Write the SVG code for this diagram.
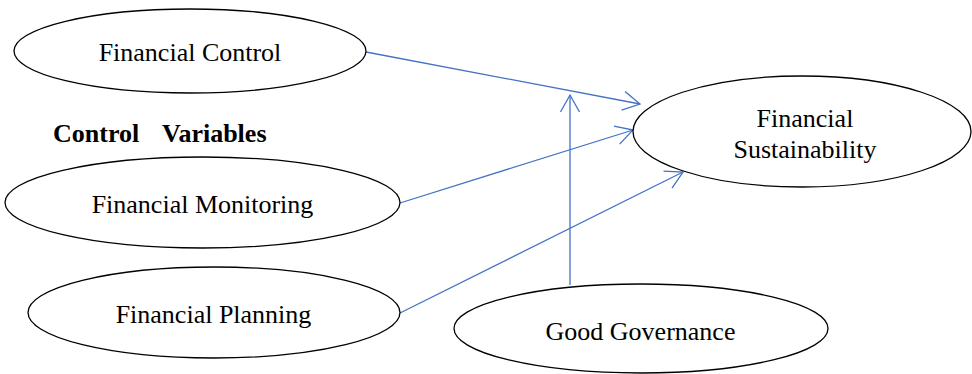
<svg xmlns="http://www.w3.org/2000/svg" width="972" height="374" viewBox="0 0 972 374">
  <style>
    .node ellipse { fill: #ffffff; stroke: #000000; stroke-width: 1.3; }
    .label { font-family: "Liberation Serif", "Times New Roman", serif; font-size: 26px; fill: #000000; text-anchor: middle; }
    .heading { font-family: "Liberation Serif", "Times New Roman", serif; font-size: 26px; font-weight: bold; fill: #000000; }
    .edge { fill: none; stroke: #4472C4; stroke-width: 1.3; marker-end: url(#open-arrow); }
  </style>
  <defs>
    <marker id="open-arrow" markerUnits="userSpaceOnUse" markerWidth="24" markerHeight="24" viewBox="-20 -12 22 24" refX="0" refY="0" orient="auto">
      <path d="M-17,-9.5 L0,0 L-17,9.5" fill="none" stroke="#4472C4" stroke-width="1.3"/>
    </marker>
  </defs>
  <rect width="972" height="374" fill="#ffffff"/>

  <g id="connectors">
    <line class="edge" x1="366" y1="52" x2="640" y2="104"/>
    <line class="edge" x1="400" y1="203" x2="633" y2="130"/>
    <line class="edge" x1="400" y1="313" x2="683" y2="172"/>
    <line class="edge" x1="570" y1="285" x2="570" y2="95"/>
  </g>

  <g id="financial-control" class="node">
    <ellipse cx="190" cy="51" rx="176" ry="42"/>
    <text class="label" x="190" y="61">Financial Control</text>
  </g>

  <g id="control-variables">
    <text class="heading" x="53" y="142">Control</text>
    <text class="heading" x="162" y="142">Variables</text>
  </g>

  <g id="financial-monitoring" class="node">
    <ellipse cx="202.5" cy="202.5" rx="197.5" ry="45.5"/>
    <text class="label" x="202.5" y="213">Financial Monitoring</text>
  </g>

  <g id="financial-planning" class="node">
    <ellipse cx="214" cy="312.5" rx="186" ry="45.5"/>
    <text class="label" x="213.5" y="323">Financial Planning</text>
  </g>

  <g id="financial-sustainability" class="node">
    <ellipse cx="802" cy="131.5" rx="169" ry="55.5"/>
    <text class="label" x="805" y="127">Financial</text>
    <text class="label" x="805" y="158">Sustainability</text>
  </g>

  <g id="good-governance" class="node">
    <ellipse cx="641" cy="328.5" rx="187" ry="44.5"/>
    <text class="label" x="640.5" y="340">Good Governance</text>
  </g>
</svg>
